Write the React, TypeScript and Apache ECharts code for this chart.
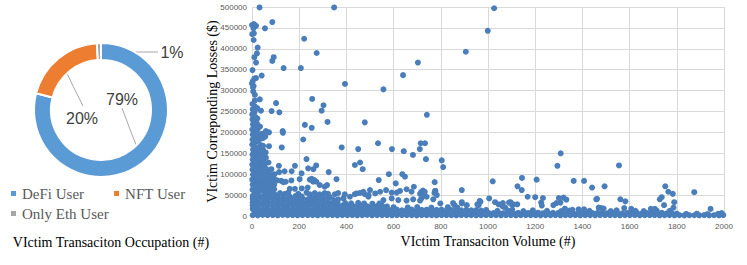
import React, { useEffect, useRef } from "react";
import * as echarts from "echarts";

// ---------- Pie data ----------
const pieCategories = ["DeFi User", "NFT User", "Only Eth User"];
const pieValues = [79, 20, 1];
const pieColors = ["#5b9bd5", "#ed7d31", "#a5a5a5"];

// ---------- Scatter axes ----------
const xMin = 0;
const xMax = 2000;
const xInterval = 200;
const yMin = 0;
const yMax = 500000;
const yInterval = 50000;

// ---------- Scatter data (victim transaction volume, losses $) ----------
const highLosses: [number, number][] = [
  [32, 499000], [348, 499000], [1026, 497000],
  [0, 457000], [8, 459000], [17, 455000], [6, 449000], [1, 435000], [8, 437000], [7, 421000],
  [86, 464000], [55, 449000], [221, 424000], [24, 403000], [21, 389000], [274, 390000], [906, 393000], [999, 443000],
  [92, 380000], [86, 371000], [10, 380000], [17, 367000], [2, 349000], [134, 354000], [207, 354000], [41, 336000],
  [10, 329000], [17, 330000], [394, 316000], [0, 317000], [4, 308000], [3, 322000], [7, 311000], [5, 298000], [12, 290000],
  [557, 303000], [640, 337000], [703, 367000], [741, 242000],
  [33, 279000], [102, 270000], [255, 280000], [303, 265000], [295, 252000], [83, 251000], [116, 248000], [38, 252000],
  [320, 225000], [478, 224000], [224, 218000], [253, 211000], [130, 203000], [131, 199000], [72, 200000], [59, 203000],
  [47, 197000], [56, 190000], [217, 183000], [380, 164000], [126, 164000], [72, 167000], [47, 168000], [450, 160000],
  [534, 174000], [593, 160000], [643, 155000], [682, 146000], [711, 160000], [715, 174000], [733, 174000], [737, 136000],
  [804, 133000], [810, 117000], [458, 128000], [436, 122000], [469, 112000], [231, 136000], [272, 121000], [182, 120000],
  [114, 120000], [168, 107000], [115, 105000], [138, 107000], [238, 114000], [260, 112000], [325, 105000],
  [580, 100000], [637, 100000], [648, 94000], [1308, 150000], [1294, 120000], [1555, 121000],
];

const midLosses: [number, number][] = [
  [537, 86000], [774, 81000], [609, 78000], [686, 70000], [889, 62000], [777, 60000], [773, 55000], [717, 57000], [724, 61000], [712, 53000],
  [358, 88000], [124, 84000], [133, 81000], [143, 82000], [107, 85000], [167, 85000], [202, 88000], [245, 87000], [259, 82000],
  [210, 102000], [253, 89000], [264, 86000], [273, 82000], [287, 74000], [308, 70000], [318, 74000], [236, 68000], [211, 66000],
  [76, 75000], [94, 75000], [160, 65000], [182, 65000], [351, 52000], [365, 55000], [393, 52000], [435, 52000], [457, 55000],
  [478, 52000], [494, 50000], [266, 55000], [287, 52000], [308, 55000], [322, 53000], [119, 55000], [140, 53000], [154, 56000],
  [196, 53000], [231, 56000], [245, 52000], [500, 62000], [522, 54000], [543, 58000], [568, 62000], [592, 56000], [613, 56000],
  [627, 60000], [655, 64000], [676, 58000], [557, 38000], [592, 42000], [620, 38000], [655, 37000], [683, 40000], [712, 37000],
  [740, 46000], [768, 40000], [387, 42000], [415, 46000], [443, 54000], [472, 58000], [493, 46000], [732, 58000], [725, 50000],
  [718, 42000], [776, 60000], [783, 50000], [798, 30000], [858, 26000], [910, 26000], [960, 26000], [852, 31000], [889, 33000],
  [889, 30000], [955, 28000], [965, 36000], [968, 34000], [1005, 42000], [1020, 83000], [1144, 91000], [1206, 87000],
  [1125, 71000], [1143, 62000], [1363, 84000], [1407, 84000], [1441, 68000], [1494, 71000], [1168, 46000], [1200, 45000],
  [1233, 43000], [1300, 43000], [1320, 44000], [1307, 32000], [1332, 39000], [1459, 40000], [1462, 41000], [1277, 26000],
  [1290, 31000], [1225, 32000], [1228, 25000], [1089, 32000], [1103, 26000], [1124, 28000], [1030, 33000], [1045, 28000],
  [1062, 23000], [1073, 20000], [1063, 31000], [1095, 33000], [1108, 28000], [1561, 40000], [1582, 35000], [1577, 19000],
  [1751, 71000], [1764, 58000], [1783, 53000], [1736, 45000], [1728, 40000], [1746, 26000], [1789, 33000], [1786, 20000],
  [1874, 57000], [1943, 17000], [1326, 17500], [1358, 15000], [1384, 16000], [1407, 16000], [1469, 20000], [1480, 19000],
  [1490, 18000], [1607, 17000], [1690, 17000], [1707, 17000], [1103, 15000],
];

const coreLosses: [number, number][] = [
  [2, 268000], [3, 255000], [1, 243000], [2, 231000], [4, 219000], [1, 207000], [3, 195000], [2, 183000], [1, 171000],
  [4, 159000], [2, 147000], [3, 135000], [1, 123000], [2, 111000], [4, 99000], [1, 87000], [3, 75000], [2, 63000],
  [12, 276000], [13, 262000], [11, 249000], [14, 237000], [12, 225000], [10, 212000], [13, 200000], [12, 188000],
  [11, 176000], [14, 164000], [12, 152000], [13, 140000], [10, 128000], [12, 116000], [14, 104000], [11, 92000],
  [13, 80000], [12, 68000], [11, 56000],
  [22, 258000], [23, 233000], [21, 221000], [24, 208000], [22, 190000], [20, 178000], [23, 162000], [22, 150000],
  [24, 138000], [21, 126000], [22, 114000], [23, 102000], [20, 90000], [24, 78000], [22, 66000], [23, 54000],
  [34, 214000], [35, 196000], [33, 184000], [36, 170000], [34, 156000], [32, 144000], [35, 132000], [34, 120000],
  [36, 108000], [33, 96000], [34, 84000], [35, 72000], [33, 60000],
  [46, 186000], [47, 158000], [45, 146000], [48, 134000], [46, 122000], [44, 110000], [47, 98000], [46, 86000],
  [45, 74000], [48, 62000],
  [58, 152000], [59, 140000], [57, 126000], [60, 113000], [58, 101000], [56, 89000], [59, 77000], [58, 65000], [57, 53000],
  [70, 128000], [71, 104000], [69, 92000], [72, 80000], [70, 68000], [71, 57000],
  [82, 112000], [83, 97000], [81, 84000], [84, 71000], [82, 59000],
  [95, 100000], [96, 88000], [94, 64000], [97, 52000],
];

const bandLowest: [number, number][] = [
  [3, 2000], [24, 1500], [45, 2500], [66, 1800], [88, 2200], [109, 1600], [130, 2400], [151, 1900], [172, 2100], [193, 1700],
  [214, 2300], [236, 1800], [257, 2000], [278, 1600], [299, 2500], [320, 1900], [341, 2200], [362, 1700], [383, 2100],
  [404, 1800], [425, 2300], [446, 1600], [467, 2000], [488, 2400], [509, 1700], [530, 2100], [551, 1900], [572, 2200],
  [593, 1600], [614, 2000], [635, 2300], [656, 1800], [677, 2100], [698, 1500], [719, 2200], [740, 1900], [761, 2000],
  [782, 1700], [803, 2300], [824, 1800], [845, 2000], [866, 1600], [887, 2200], [908, 1900], [929, 2100], [950, 1700],
  [971, 2000], [992, 2300], [1013, 1800], [1034, 2100], [1055, 1600], [1076, 2000], [1097, 2200], [1118, 1700], [1139, 1900],
  [1160, 2300], [1181, 1800], [1202, 2000], [1223, 1600], [1244, 2100], [1265, 1900], [1286, 2200], [1307, 1700], [1328, 2000],
  [1349, 1800], [1370, 2300], [1391, 1600], [1412, 2000], [1433, 2100], [1454, 1700], [1475, 1900], [1496, 2200], [1517, 1800],
  [1538, 2000], [1559, 1600], [1580, 2100], [1601, 1900], [1622, 2200], [1643, 1700], [1664, 2000], [1685, 1800], [1706, 2300],
  [1727, 1600], [1748, 2000], [1769, 2100], [1790, 1700], [1811, 1900], [1832, 1500], [1853, 2000], [1874, 1800], [1895, 1600],
  [1916, 2100], [1937, 1700], [1958, 1900], [1979, 1600], [1997, 2200],
];

const bandSecond: [number, number][] = [
  [14, 9000], [35, 8500], [56, 9500], [77, 8000], [98, 9200], [119, 8700], [140, 9400], [161, 8200], [182, 9000], [203, 8600],
  [225, 9300], [246, 8100], [267, 9000], [288, 8800], [309, 9500], [330, 8300], [351, 9100], [372, 8500], [393, 9000],
  [414, 8200], [435, 9400], [456, 8700], [477, 8900], [498, 8300], [519, 9200], [540, 8600], [561, 9000], [582, 8400],
  [603, 8500], [624, 8000], [645, 8800], [666, 7900], [687, 8600], [708, 8200], [729, 8700], [750, 7800], [771, 8500],
  [792, 8100], [813, 8900], [834, 7700], [855, 8300], [876, 8000], [897, 8600], [918, 7900], [939, 8200], [960, 7600],
  [981, 8400], [1002, 7500], [1023, 7200], [1044, 8000], [1065, 6800], [1086, 7500], [1107, 7000], [1128, 7800], [1149, 6600],
  [1170, 7400], [1191, 7100], [1212, 7900], [1233, 6700], [1254, 7300], [1275, 7600], [1296, 6900], [1317, 7700], [1338, 7000],
  [1359, 7400], [1380, 6600], [1401, 7800], [1422, 7100], [1443, 6900], [1464, 7500], [1485, 7200], [1506, 6700], [1527, 7600],
  [1548, 7000], [1569, 6500], [1590, 7300], [1611, 6800], [1632, 7100], [1653, 6400], [1674, 7000], [1695, 7400], [1716, 6900],
  [1737, 7500], [1758, 6600], [1779, 7200], [1800, 6000], [1840, 5000], [1885, 5500], [1930, 4800], [1975, 5200], [1990, 7000],
];

const bandThird: [number, number][] = [
  [3, 16500], [24, 17000], [45, 16000], [66, 17500], [88, 16200], [109, 17200], [130, 16400], [151, 17800], [172, 16100],
  [193, 17000], [214, 16600], [236, 17400], [257, 16000], [278, 17100], [299, 16700], [320, 17600], [341, 16300], [362, 17000],
  [383, 16500], [404, 17300], [425, 16100], [446, 16900], [467, 17400], [488, 16200], [509, 17000], [530, 16600], [551, 17200],
  [572, 16000], [593, 14500], [614, 15200], [635, 13800], [656, 14900], [677, 15400], [698, 13600], [719, 14800], [740, 15100],
  [761, 13900], [782, 14600], [803, 15300], [824, 13700], [845, 14400], [866, 15000], [887, 13500], [908, 14700], [929, 13800],
  [950, 14200], [971, 13000], [992, 14500], [1040, 12500], [1085, 13000], [1150, 12000], [1190, 13500], [1250, 12500],
  [1310, 12000], [1345, 13000], [1430, 12500], [1520, 12000], [1545, 13500], [1625, 12500], [1660, 12000], [1715, 13000],
  [1770, 12500],
];

const bandFourth: [number, number][] = [
  [3, 25000], [24, 24500], [45, 25500], [66, 24200], [88, 25300], [109, 24800], [130, 25600], [151, 24300], [172, 25100],
  [193, 24700], [214, 25400], [236, 24100], [257, 25000], [278, 24600], [299, 25500], [320, 24400], [341, 25200], [362, 24000],
  [383, 24800], [404, 23500], [425, 24600], [446, 23800], [467, 24900], [488, 23300], [509, 24200], [530, 23700], [551, 24800],
  [572, 22800], [600, 21000], [660, 20500], [700, 21500], [760, 20000], [830, 21000], [870, 20000],
];

const bandFifth: [number, number][] = [
  [3, 33000], [24, 32500], [45, 33500], [66, 32200], [88, 33300], [109, 32800], [130, 33600], [151, 32300], [172, 33100],
  [193, 32700], [214, 33400], [236, 32100], [257, 33000], [278, 32600], [299, 33500], [320, 32400], [341, 31800], [362, 32900],
  [395, 31000], [420, 30500], [450, 31500], [475, 30000], [510, 29500], [540, 30000],
];

const bandSixth: [number, number][] = [
  [3, 41000], [24, 40500], [45, 42000], [66, 40200], [88, 41800], [109, 40700], [130, 42200], [151, 39800], [172, 41500],
  [193, 40300], [214, 41900], [236, 39900], [257, 41200], [278, 40100], [299, 39000], [320, 41600], [345, 38500], [365, 40000],
];

const bandSeventh: [number, number][] = [
  [3, 48000], [24, 49000], [45, 47500], [66, 49500], [88, 48200], [109, 47000], [135, 48800], [160, 46500], [185, 48000],
  [210, 47200], [250, 46000], [275, 47500], [300, 46500], [330, 45000],
];

const scatterData = [
  ...bandLowest, ...bandSecond, ...bandThird, ...bandFourth, ...bandFifth, ...bandSixth, ...bandSeventh,
  ...coreLosses, ...midLosses, ...highLosses,
];

// label placement for the pie (pixel layout, not data)
const pieLabelAt: [number, number][] = [[122, 99], [82, 118], [172, 52]];
const pieLabelLines: [number, number][][] = [
  [[122, 108], [131, 132], [141, 157]],
  [[63, 65], [73, 86], [83, 106]],
  [[100, 52], [130, 52], [158, 52]],
];

const SERIF = "Liberation Serif";
const SANS = "Liberation Sans";

export default function App() {
  const ref = useRef<HTMLDivElement>(null);

  useEffect(() => {
    document.body.style.margin = "0";
    if (!ref.current) return;
    const chart = echarts.init(ref.current, undefined, { renderer: "svg" });

    const legendText = { fontFamily: SERIF, fontSize: 15, color: "#595959" };
    const legendItem = (name: string) => ({ name, icon: "rect", textStyle: legendText });

    const option: any = {
      animation: false,
      backgroundColor: "#ffffff",
      textStyle: { fontFamily: SERIF },
      legend: [
        {
          data: [legendItem(pieCategories[0]), legendItem(pieCategories[1])],
          left: 4,
          top: 181,
          itemWidth: 7,
          itemHeight: 7,
          itemGap: 28,
          icon: "rect",
          textStyle: legendText,
        },
        {
          data: [legendItem(pieCategories[2])],
          left: 4,
          top: 201,
          itemWidth: 7,
          itemHeight: 7,
          icon: "rect",
          textStyle: legendText,
        },
      ],
      grid: { left: 252, right: 23, top: 7, bottom: 49 },
      xAxis: {
        type: "value",
        min: xMin,
        max: xMax,
        interval: xInterval,
        name: "VIctim Transaciton Volume (#)",
        nameLocation: "middle",
        nameGap: 18,
        nameMoveOverlap: false,
        nameTextStyle: { fontFamily: SERIF, fontSize: 14, color: "#000000", verticalAlign: "top" },
        axisLine: { show: true, lineStyle: { color: "#d9d9d9" } },
        axisTick: { show: false },
        axisLabel: {
          fontFamily: SANS,
          fontSize: 8,
          color: "#595959",
          margin: 6,
          formatter: (v: number) => String(v),
        },
        splitLine: { show: true, lineStyle: { color: "#d9d9d9", width: 1 } },
      },
      yAxis: {
        type: "value",
        min: yMin,
        max: yMax,
        interval: yInterval,
        name: "VIctim Correponding Losses ($)",
        nameLocation: "middle",
        nameGap: 33,
        nameMoveOverlap: false,
        nameTextStyle: { fontFamily: SERIF, fontSize: 14, color: "#000000" },
        axisLine: { show: false },
        axisTick: { show: false },
        axisLabel: {
          fontFamily: SANS,
          fontSize: 8,
          color: "#595959",
          margin: 5,
          formatter: (v: number) => String(v),
        },
        splitLine: { show: true, lineStyle: { color: "#d9d9d9", width: 1 } },
      },
      series: [
        {
          type: "pie",
          center: [101, 110],
          radius: [50, 67],
          startAngle: 90,
          clockwise: true,
          avoidLabelOverlap: false,
          itemStyle: { borderColor: "#ffffff", borderWidth: 2 },
          label: {
            show: true,
            position: "outside",
            formatter: (p: any) => `${p.value}%`,
            fontFamily: SANS,
            fontSize: 16,
            color: "#404040",
          },
          labelLine: { show: true, lineStyle: { color: "#a6a6a6", width: 1 } },
          labelLayout: (p: any) => {
            const i = p.dataIndex;
            return {
              x: pieLabelAt[i][0],
              y: pieLabelAt[i][1],
              align: "center",
              verticalAlign: "middle",
              labelLinePoints: pieLabelLines[i],
            };
          },
          data: pieCategories.map((name, i) => ({
            name,
            value: pieValues[i],
            itemStyle: { color: pieColors[i] },
          })),
        },
        {
          type: "scatter",
          symbol: "circle",
          symbolSize: 6,
          clip: false,
          itemStyle: { color: "#4a7ebb", opacity: 1 },
          data: scatterData,
        },
      ],
      graphic: [
        {
          type: "text",
          style: {
            text: "VIctim Transaciton Occupation (#)",
            x: 111,
            y: 242,
            align: "center",
            verticalAlign: "middle",
            font: `14px ${SERIF}`,
            fill: "#000000",
          },
        },
      ],
    };

    chart.setOption(option);
    return () => chart.dispose();
  }, []);

  return <div ref={ref} style={{ width: 747, height: 265 }} />;
}
